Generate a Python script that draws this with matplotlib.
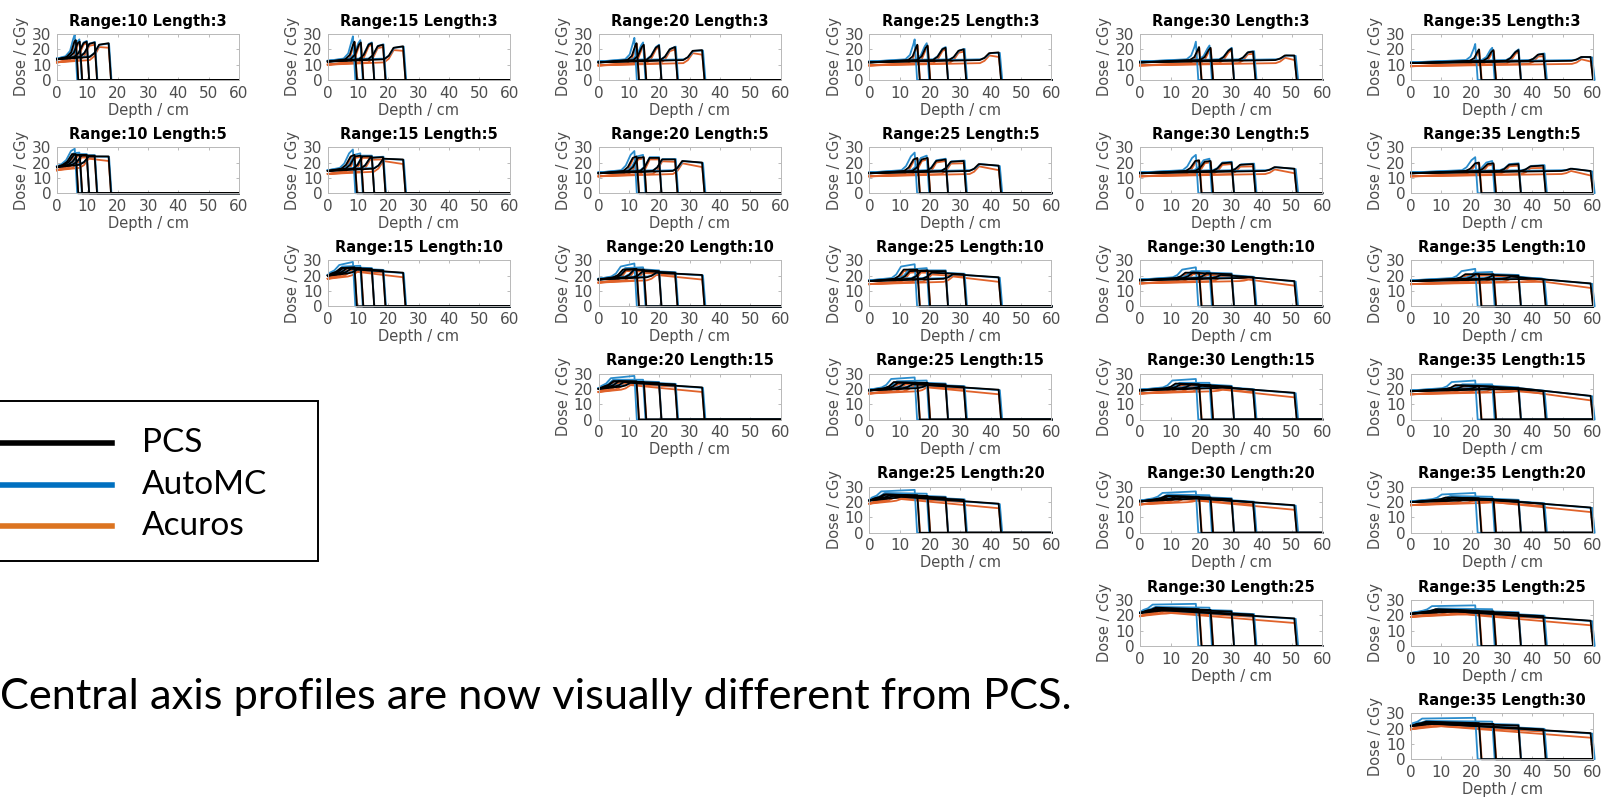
import numpy as np
import matplotlib.pyplot as plt
from matplotlib.patches import Rectangle
from matplotlib.lines import Line2D

ranges = [10, 15, 20, 25, 30, 35]
lengths = [3, 5, 10, 15, 20, 25, 30]
methods = ['PCS', 'AutoMC', 'Acuros']

# distal end (cm) of the five PCS profiles, one list per range column
ends_pcs = [[6.6, 7.9, 10.2, 12.8, 17.4],
            [9.2, 11.3, 14.9, 18.6, 25.2],
            [12.9, 15.3, 20.3, 25.6, 34.5],
            [16.2, 19.6, 25.5, 31.5, 43.0],
            [19.8, 23.6, 30.5, 37.6, 51.2],
            [22.8, 27.6, 35.8, 44.0, 59.6]]
# modulation width per cm of nominal length, per profile
stretch = [0.65, 0.79, 1.02, 1.26, 1.71]

# PCS entrance dose, per range column, per length
entry_pcs = [[13.5, 17],
             [12, 14.5, 20],
             [11.5, 13, 17.5, 20],
             [11.5, 13, 16.5, 19, 21],
             [11.5, 13, 17, 19, 20.5, 21.5],
             [11, 13, 16.5, 18.5, 20, 21, 21.5]]
# PCS dose at the proximal edge of the modulation
prox_pcs = [[[25, 24, 24, 23.5, 23], [25.5, 25, 25, 24.5, 24]],
            [[23, 23, 23, 22, 21], [24, 24, 24, 23, 22.5], [25, 25, 25, 24.5, 24]],
            [[22, 21.5, 21, 20, 19], [23, 23, 23, 22, 21], [24, 24, 24, 23, 22],
             [25, 25, 25, 24.5, 24]],
            [[21, 21, 20, 19, 17.5], [22, 22, 21, 20.5, 19], [24, 23, 23, 22, 21],
             [24.5, 24, 24, 23, 22.5], [25, 25, 24.5, 24, 23.5]],
            [[19.5, 19.5, 19, 18, 16], [21, 20.5, 19.5, 18.5, 17], [22, 22, 21.5, 20.5, 19],
             [23.5, 23, 23, 22, 21], [24, 24, 23.5, 23, 22.5], [25, 24.5, 24, 23.5, 23]],
            [[18.5, 18.5, 18, 16.5, 15], [19.5, 19, 18.5, 17.5, 16], [21, 21, 20.5, 19.5, 17.5],
             [22.5, 22, 22, 21, 20.5], [23, 23, 22.5, 22, 21.5], [24, 23.5, 23, 22.5, 22],
             [24.5, 24, 23.5, 23, 23]]]
# PCS dose at the distal edge
dist_pcs = [[[26, 25, 25, 24.5, 24], [25.5, 25, 25, 24.5, 24]],
            [[25, 24.5, 24, 23, 22], [25, 24.5, 24, 23.5, 22], [25.5, 25, 24.5, 23.5, 22]],
            [[24, 23, 22.5, 21.5, 19.5], [24, 23.5, 23, 22, 20], [24.5, 24, 23, 22, 20.5],
             [25, 24.5, 24, 23, 21]],
            [[23, 22.5, 21, 20, 18], [23, 23, 22, 21, 18], [24, 23.5, 23, 21, 19],
             [24, 24, 23, 21.5, 19.5], [24.5, 24, 23, 21.5, 19]],
            [[21.5, 21, 20.5, 18.5, 16], [21.5, 21, 20, 19, 16], [22, 21.5, 21, 19, 16.5],
             [23, 22.5, 21.5, 19.5, 17.5], [23.5, 23, 22, 20, 18], [24, 23.5, 22.5, 20.5, 18]],
            [[20, 19.5, 19.5, 17, 15], [20, 19.5, 19, 18, 14.5], [21, 21, 20, 17.5, 15],
             [22, 21.5, 20.5, 18.5, 15.5], [22.5, 22, 21, 19, 16.5], [23, 22.5, 21.5, 19.5, 16.5],
             [23.5, 23, 22, 19.5, 17]]]

# differences of the other two engines from PCS, per profile
mc_end_shift = [-0.035, -0.012, 0.003, 0.012, 0.016]   # fraction of range
mc_prox_delta = [2.0, 1.0, 0.5, 0.3, 0.0]
mc_dist_delta = [3.5, 1.5, 0.5, 0.3, -0.3]
mc_entry_delta = 0.5
ac_end_shift = [0.003, 0.003, 0.003, 0.003, 0.003]
ac_prox_delta = [-1.0, -1.0, -1.0, -1.2, -1.5]
ac_dist_delta = [-0.5, -0.8, -1.0, -1.5, -3.0]
ac_entry_delta = -2.0

panel_colors = {'PCS': 'black', 'AutoMC': '#2a8ccc', 'Acuros': '#e0622a'}
legend_colors = {'PCS': 'black', 'AutoMC': '#0070c0', 'Acuros': '#dc7420'}


def profile(entry, prox, dist, end, width):
    start = end - width
    rise = min(1.6, 0.55 * width)
    base = entry + 1.5
    xs, ys = [0.0], [entry]
    if start - 1.5 > 0:
        xs.append(start - 1.5); ys.append(base)
    if start > 0:
        xs.append(start); ys.append(base + 0.3 * (prox - base))
    xs += [max(start, 0) + rise, end - 0.4, end + 0.4, 60]
    ys += [prox, dist, 0, 0]
    return xs, ys


W, H = 1604, 801
fig = plt.figure(figsize=(W / 100, H / 100), dpi=100)

for ci, rng in enumerate(ranges):
    for li, L in enumerate(lengths):
        if L >= rng:
            continue
        left = 57 + 270.8 * ci
        top = 34 + 113.2 * li
        ax = fig.add_axes([left / W, 1 - (top + 46) / H, 182 / W, 46 / H])
        for m in ['Acuros', 'AutoMC', 'PCS']:
            for k in range(5):
                e0 = entry_pcs[ci][li]
                p0 = prox_pcs[ci][li][k]
                d0 = dist_pcs[ci][li][k]
                end = ends_pcs[ci][k]
                if m == 'AutoMC':
                    e0 += mc_entry_delta; p0 += mc_prox_delta[k]; d0 += mc_dist_delta[k]
                    end += mc_end_shift[k] * rng
                elif m == 'Acuros':
                    e0 += ac_entry_delta; p0 += ac_prox_delta[k]; d0 += ac_dist_delta[k]
                    end += ac_end_shift[k] * rng
                xs, ys = profile(e0, p0, d0, end, L * stretch[k])
                ax.plot(xs, ys, color=panel_colors[m], lw=1.3, clip_on=False)
        ax.set_xlim(0, 60)
        ax.set_ylim(0, 30)
        ax.set_xticks([0, 10, 20, 30, 40, 50, 60])
        ax.set_yticks([0, 10, 20, 30])
        ax.tick_params(direction='in', length=2.5, width=0.6, colors='#b0b0b0',
                       labelcolor='#4d4d4d', labelsize=11, top=True, right=True, pad=4)
        for s in ax.spines.values():
            s.set_color('#b8b8b8')
            s.set_linewidth(0.7)
        ax.set_title(f'Range:{rng} Length:{L}', fontsize=10.5, fontweight='bold', pad=6)
        ax.set_xlabel('Depth / cm', fontsize=10.5, color='#4d4d4d', labelpad=1.5)
        ax.set_ylabel('Dose / cGy', fontsize=10.5, color='#4d4d4d', labelpad=2)

# legend box drawn on the figure, partly cut by the left edge
fig.patches.append(Rectangle((-20 / W, 1 - 561 / H), 338 / W, 160 / H,
                             transform=fig.transFigure, fill=False,
                             edgecolor='black', lw=1.4))
for i, m in enumerate(methods):
    y = 1 - (443 + 41.5 * i) / H
    fig.lines.append(Line2D([-10 / W, 112 / W], [y, y], transform=fig.transFigure,
                            color=legend_colors[m], lw=4))
    fig.text(142 / W, y, m, fontsize=24, family='Lato', va='center', ha='left')

fig.text(0, 1 - 697 / H, 'Central axis profiles are now visually different from PCS.',
         fontsize=31.2, family='Lato', va='center', ha='left')

fig.savefig('out.png', dpi=100)
